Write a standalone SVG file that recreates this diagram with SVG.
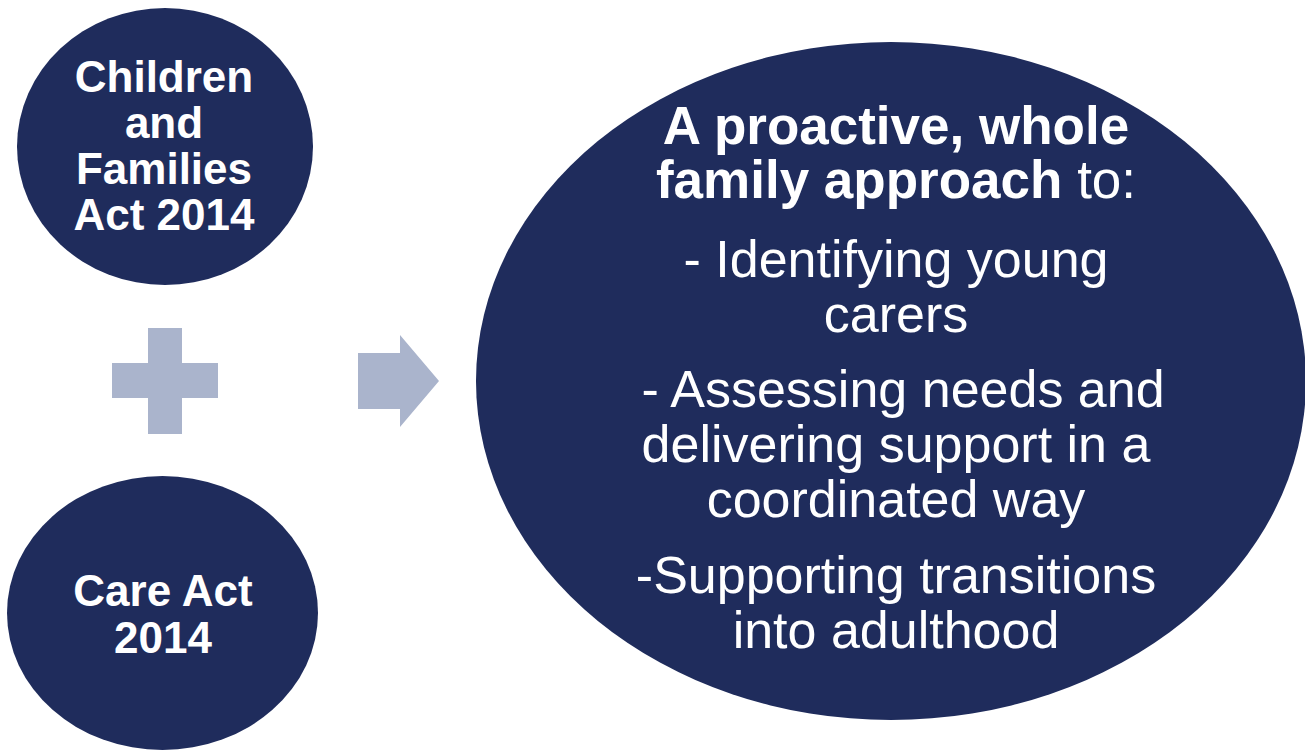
<svg xmlns="http://www.w3.org/2000/svg" width="1305" height="750" viewBox="0 0 1305 750">
  <style>
    .node { fill: #1F2C5C; }
    .sym { fill: #AAB4CC; }
    .t { fill: #FFFFFF; font-family: "Liberation Sans", Arial, sans-serif; text-anchor: middle; }
    .sb { font-size: 44px; font-weight: bold; }
    .bg { font-size: 52px; }
    .hd { font-size: 53px; }
    .b { font-weight: bold; }
  </style>
  <rect width="1305" height="750" fill="#FFFFFF"/>
  <g id="node-children-families-act">
    <ellipse class="node" cx="165" cy="146.5" rx="148" ry="138.5"/>
    <text class="t sb" x="164" y="92">Children</text>
    <text class="t sb" x="164" y="138">and</text>
    <text class="t sb" x="164" y="184">Families</text>
    <text class="t sb" x="164" y="230">Act 2014</text>
  </g>
  <g id="node-care-act">
    <ellipse class="node" cx="162.5" cy="613" rx="155.5" ry="137"/>
    <text class="t sb" x="163" y="606">Care Act</text>
    <text class="t sb" x="163" y="653">2014</text>
  </g>
  <g id="connectors">
    <g id="plus">
      <rect class="sym" x="148" y="328" width="34" height="106"/>
      <rect class="sym" x="112" y="363" width="106" height="35"/>
    </g>
    <polygon id="arrow" class="sym" points="358,353 400,353 400,335 439,381 400,427 400,409 358,409"/>
  </g>
  <g id="node-approach">
    <ellipse class="node" cx="891" cy="381" rx="415" ry="339"/>
    <text class="t hd b" x="896" y="144">A proactive, whole</text>
    <text class="t hd" x="896" y="198"><tspan class="b">family approach</tspan> to:</text>
    <text class="t bg" x="896" y="277">- Identifying young</text>
    <text class="t bg" x="896" y="332">carers</text>
    <text class="t bg" x="903" y="407">- Assessing needs and</text>
    <text class="t bg" x="896" y="462">delivering support in a</text>
    <text class="t bg" x="896" y="517">coordinated way</text>
    <text class="t bg" x="896" y="593">-Supporting transitions</text>
    <text class="t bg" x="896" y="648">into adulthood</text>
  </g>
</svg>
